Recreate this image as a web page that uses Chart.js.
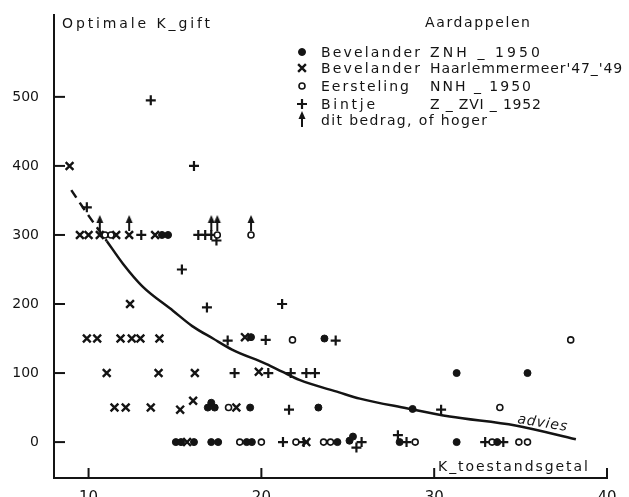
<!DOCTYPE html>
<html>
<head>
<meta charset="utf-8">
<script src="https://cdn.jsdelivr.net/npm/chart.js@4.4.0/dist/chart.umd.min.js"></script>
<style>
  html, body { margin: 0; padding: 0; background: #fff; }
  canvas { display: block; }
</style>
</head>
<body>
<canvas id="chart" width="629" height="497"></canvas>
<script>
// Bevelander ZNH 1950 (filled dots)
const znhX = [14.25, 14.6, 19.4, 23.65, 31.3, 35.4, 17.1, 16.9, 17.3, 19.35, 23.3, 28.75,
              15.05, 15.35, 16.1, 17.1, 17.5, 19.15, 19.45, 24.4, 25.1, 25.3, 28.0, 31.3, 33.65];
const znhY = [300, 300, 152, 150, 100, 100, 57, 50, 50, 50, 50, 48,
              0, 0, 0, 0, 0, 0, 0, 0, 2, 8, 0, 0, 0];
// Bevelander Haarlemmermeer '47-'49 (crosses)
const haaX = [8.9, 9.5, 10.0, 10.65, 11.6, 12.35, 13.85, 12.4,
              9.9, 10.5, 11.85, 12.5, 13.0, 14.1, 19.05,
              11.05, 14.05, 16.15, 19.85,
              11.5, 12.15, 13.6, 15.3, 16.05, 18.55, 15.7, 22.6];
const haaY = [400, 300, 300, 300, 300, 300, 300, 200,
              150, 150, 150, 150, 150, 150, 152,
              100, 100, 100, 102,
              50, 50, 50, 47, 60, 50, 0, 0];
// Eersteling NNH 1950 (open circles)
const eerX = [10.95, 11.3, 17.45, 19.4, 21.8, 37.9, 18.1, 33.8,
              18.75, 20.0, 22.0, 23.6, 24.0, 28.9, 33.35, 34.9, 35.4];
const eerY = [300, 300, 300, 300, 148, 148, 50, 50,
              0, 0, 0, 0, 0, 0, 0, 0, 0];
// Bintje Z-ZVI 1952 (plus signs)
const binX = [13.6, 16.1, 9.9, 13.05, 16.35, 16.75, 17.1, 17.4,
              15.4, 16.85, 21.2, 18.05, 20.25, 24.3,
              18.45, 20.4, 21.7, 22.6, 23.1, 21.6, 30.4,
              21.25, 22.45, 25.5, 25.8, 27.9, 28.4, 32.95, 34.0];
const binY = [495, 400, 340, 300, 300, 300, 300, 292,
              250, 195, 200, 147, 148, 147,
              100, 100, 100, 100, 100, 47, 47,
              0, 0, -8, 0, 10, 0, 0, 0];
// "dit bedrag, of hoger" arrows
const arrX = [10.65, 12.35, 17.1, 17.45, 19.4];
const arrY = [300, 300, 300, 300, 300];
// advies curve
const advX = [9.0, 10.0, 11.06, 12.0, 13.1, 14.9, 16.0, 17.2, 18.3, 20.3, 21.2, 22.2, 24.5, 25.7, 28.4, 30.9, 34.7, 38.2];
const advY = [365, 328, 291, 258, 226, 190, 168, 150, 134, 113, 102, 90, 72, 63, 49, 37, 24, 4];

const xTicks = [10, 20, 30, 40];
const yTicks = [0, 100, 200, 300, 400, 500];

const ink = '#141414';
const face = '"DejaVu Sans", sans-serif';

const pts = (xs, ys) => xs.map((v, i) => ({x: v, y: ys[i]}));

// arrow image used as point style, point sits at its centre
const arrowImg = document.createElement('canvas');
arrowImg.width = 10; arrowImg.height = 44;
(function () {
    const c = arrowImg.getContext('2d');
    c.strokeStyle = ink; c.fillStyle = ink; c.lineWidth = 2;
    c.beginPath(); c.moveTo(5, 18); c.lineTo(5, 6); c.stroke();
    c.beginPath(); c.moveTo(5, 2); c.lineTo(1.5, 10); c.lineTo(8.5, 10); c.closePath(); c.fill();
})();

function fitText(ctx, text, x, y, width) {
    ctx.letterSpacing = '0px';
    const w = ctx.measureText(text).width;
    const gap = text.length > 1 ? (width - w) / (text.length - 1) : 0;
    ctx.letterSpacing = gap.toFixed(2) + 'px';
    ctx.fillText(text, x, y);
    ctx.letterSpacing = '0px';
}

const overlay = {
    id: 'overlay',
    afterDraw(chart) {
        const {ctx, chartArea: area, scales: {x, y}} = chart;
        ctx.save();
        ctx.strokeStyle = ink;
        ctx.lineWidth = 2;
        yTicks.forEach(v => {
            const py = y.getPixelForValue(v);
            ctx.beginPath(); ctx.moveTo(area.left, py); ctx.lineTo(area.left + 11, py); ctx.stroke();
        });
        xTicks.forEach(v => {
            const px = x.getPixelForValue(v);
            ctx.beginPath(); ctx.moveTo(px, area.bottom); ctx.lineTo(px, area.bottom - 10); ctx.stroke();
        });

        ctx.fillStyle = ink;
        ctx.textBaseline = 'alphabetic';
        ctx.textAlign = 'left';
        ctx.font = '14px ' + face;
        fitText(ctx, 'Optimale K_gift', 62, 28, 148);
        fitText(ctx, 'K_toestandsgetal', 438, 471, 150);
        fitText(ctx, 'Aardappelen', 425, 27, 105);

        // legend
        const mx = 302;
        const rows = [
            {y: 52, a: 'Bevelander', wa: 99, b: 'ZNH _ 1950', wb: 110, style: 'circle', fill: ink, r: 3.5, bw: 1},
            {y: 68, a: 'Bevelander', wa: 99, b: "Haarlemmermeer'47_'49", wb: 192, style: 'crossRot', fill: ink, r: 5.5, bw: 2.4},
            {y: 86, a: 'Eersteling', wa: 88, b: 'NNH _ 1950', wb: 101, style: 'circle', fill: '#fff', r: 3, bw: 1.6},
            {y: 104, a: 'Bintje', wa: 54, b: 'Z _ ZVI _ 1952', wb: 111, style: 'cross', fill: ink, r: 5, bw: 2.2}
        ];
        rows.forEach(row => {
            ctx.fillStyle = row.fill;
            ctx.lineWidth = row.bw;
            Chart.helpers.drawPoint(ctx, {pointStyle: row.style, radius: row.r, borderWidth: row.bw}, mx, row.y);
            ctx.fillStyle = ink;
            fitText(ctx, row.a, 321, row.y + 5, row.wa);
            fitText(ctx, row.b, 430, row.y + 5, row.wb);
        });
        ctx.drawImage(arrowImg, mx - 5, 121 - 22 + 10);
        fitText(ctx, 'dit bedrag, of hoger', 321, 125, 166);

        // advies label along the curve
        ctx.save();
        ctx.translate(517, 423);
        ctx.rotate(9 * Math.PI / 180);
        ctx.font = 'italic 14px ' + face;
        fitText(ctx, 'advies', 0, 0, 50);
        ctx.restore();

        ctx.restore();
    }
};

const marker = (label, data, style, r, fill, bw) => ({
    type: 'scatter',
    label: label,
    data: data,
    pointStyle: style,
    pointRadius: r,
    pointHoverRadius: r,
    pointBackgroundColor: fill,
    pointBorderColor: ink,
    pointBorderWidth: bw
});

new Chart(document.getElementById('chart'), {
    type: 'scatter',
    data: {
        datasets: [
            {
                type: 'line',
                label: 'advies',
                data: pts(advX, advY),
                borderColor: ink,
                borderWidth: 2.5,
                pointRadius: 0,
                fill: false,
                cubicInterpolationMode: 'monotone',
                segment: {
                    borderDash: c => c.p0.parsed.x < 11 ? [9, 6] : undefined
                }
            },
            marker('dit bedrag, of hoger', pts(arrX, arrY), arrowImg, 5, ink, 0),
            marker('Bevelander ZNH 1950', pts(znhX, znhY), 'circle', 3.5, ink, 1),
            marker("Bevelander Haarlemmermeer '47-'49", pts(haaX, haaY), 'crossRot', 5.5, ink, 2.4),
            marker('Eersteling NNH 1950', pts(eerX, eerY), 'circle', 3, '#fff', 1.6),
            marker('Bintje Z-ZVI 1952', pts(binX, binY), 'cross', 5, ink, 2.2)
        ]
    },
    options: {
        responsive: false,
        devicePixelRatio: 1,
        animation: false,
        events: [],
        layout: {padding: {left: 0, top: 13, right: 22, bottom: 0}},
        plugins: {legend: {display: false}, tooltip: {enabled: false}},
        scales: {
            x: {
                type: 'linear',
                min: 8,
                max: 40,
                afterBuildTicks: s => { s.ticks = xTicks.map(v => ({value: v})); },
                afterFit: s => { s.height = 19; },
                grid: {display: false},
                border: {display: true, color: ink, width: 2},
                ticks: {color: ink, padding: 3, font: {family: face, size: 15}}
            },
            y: {
                type: 'linear',
                min: -52,
                max: 618,
                afterBuildTicks: s => { s.ticks = yTicks.map(v => ({value: v})); },
                afterFit: s => { s.width = 54; },
                grid: {display: false},
                border: {display: true, color: ink, width: 2},
                ticks: {color: ink, padding: 7, font: {family: face, size: 14}}
            }
        }
    },
    plugins: [overlay]
});
</script>
</body>
</html>
